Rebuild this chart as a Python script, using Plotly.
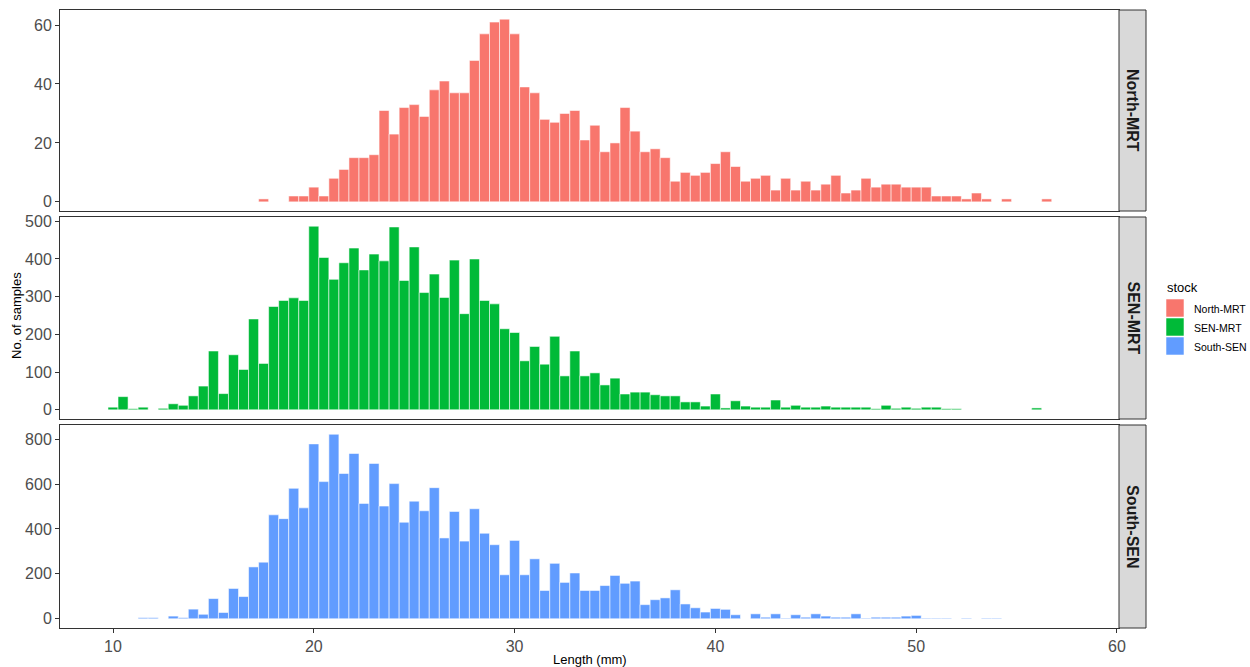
import plotly.graph_objects as go

# ---------------------------------------------------------------- data
stocks = ["North-MRT", "SEN-MRT", "South-SEN"]
stock_colors = ["#F8766D", "#00BA38", "#619CFF"]

# Length-class centres (mm, 0.5 mm classes) and sample counts per stock
north_len = [17.5, 19.0, 19.5, 20.0, 20.5, 21.0, 21.5, 22.0, 22.5, 23.0,
             23.5, 24.0, 24.5, 25.0, 25.5, 26.0, 26.5, 27.0, 27.5, 28.0,
             28.5, 29.0, 29.5, 30.0, 30.5, 31.0, 31.5, 32.0, 32.5, 33.0,
             33.5, 34.0, 34.5, 35.0, 35.5, 36.0, 36.5, 37.0, 37.5, 38.0,
             38.5, 39.0, 39.5, 40.0, 40.5, 41.0, 41.5, 42.0, 42.5, 43.0,
             43.5, 44.0, 44.5, 45.0, 45.5, 46.0, 46.5, 47.0, 47.5, 48.0,
             48.5, 49.0, 49.5, 50.0, 50.5, 51.0, 51.5, 52.0, 52.5, 53.0,
             53.5, 54.5, 56.5]
north_n = [1, 2, 2, 5, 2, 8, 11, 15, 15, 16,
           31, 23, 32, 33, 29, 38, 41, 37, 37, 48,
           57, 61, 62, 57, 39, 37, 28, 27, 30, 31,
           21, 26, 17, 20, 32, 24, 17, 18, 15, 7,
           10, 9, 10, 13, 17, 12, 7, 8, 9, 4,
           8, 4, 7, 4, 6, 9, 3, 4, 8, 5,
           6, 6, 5, 5, 5, 2, 2, 2, 1, 3,
           1, 1, 1]

sen_len = [10.0, 10.5, 11.0, 11.5, 12.5, 13.0, 13.5, 14.0, 14.5, 15.0,
           15.5, 16.0, 16.5, 17.0, 17.5, 18.0, 18.5, 19.0, 19.5, 20.0,
           20.5, 21.0, 21.5, 22.0, 22.5, 23.0, 23.5, 24.0, 24.5, 25.0,
           25.5, 26.0, 26.5, 27.0, 27.5, 28.0, 28.5, 29.0, 29.5, 30.0,
           30.5, 31.0, 31.5, 32.0, 32.5, 33.0, 33.5, 34.0, 34.5, 35.0,
           35.5, 36.0, 36.5, 37.0, 37.5, 38.0, 38.5, 39.0, 39.5, 40.0,
           40.5, 41.0, 41.5, 42.0, 42.5, 43.0, 43.5, 44.0, 44.5, 45.0,
           45.5, 46.0, 46.5, 47.0, 47.5, 48.0, 48.5, 49.0, 49.5, 50.0,
           50.5, 51.0, 51.5, 52.0, 56.0]
sen_n = [7, 35, 3, 7, 4, 16, 12, 37, 63, 156,
         43, 146, 107, 241, 123, 274, 290, 297, 290, 487,
         404, 346, 390, 429, 371, 413, 395, 485, 343, 432,
         311, 360, 298, 397, 255, 400, 290, 281, 215, 205,
         130, 168, 121, 195, 90, 156, 90, 98, 66, 84,
         42, 47, 47, 40, 37, 37, 21, 21, 10, 42,
         5, 24, 10, 7, 7, 26, 7, 12, 7, 7,
         10, 7, 7, 7, 7, 3, 12, 4, 7, 4,
         7, 7, 3, 3, 5]

south_len = [11.5, 12.0, 13.0, 13.5, 14.0, 14.5, 15.0, 15.5, 16.0, 16.5,
             17.0, 17.5, 18.0, 18.5, 19.0, 19.5, 20.0, 20.5, 21.0, 21.5,
             22.0, 22.5, 23.0, 23.5, 24.0, 24.5, 25.0, 25.5, 26.0, 26.5,
             27.0, 27.5, 28.0, 28.5, 29.0, 29.5, 30.0, 30.5, 31.0, 31.5,
             32.0, 32.5, 33.0, 33.5, 34.0, 34.5, 35.0, 35.5, 36.0, 36.5,
             37.0, 37.5, 38.0, 38.5, 39.0, 39.5, 40.0, 40.5, 41.0, 42.0,
             42.5, 43.0, 43.5, 44.0, 44.5, 45.0, 45.5, 46.0, 46.5, 47.0,
             47.5, 48.0, 48.5, 49.0, 49.5, 50.0, 50.5, 51.0, 51.5, 52.5,
             53.5, 54.0]
south_n = [5, 5, 12, 5, 43, 20, 90, 28, 135, 99,
           231, 252, 463, 446, 581, 494, 779, 611, 822, 647,
           736, 514, 692, 502, 602, 430, 524, 481, 584, 360,
           478, 346, 490, 381, 330, 196, 349, 196, 267, 126,
           247, 162, 204, 126, 126, 148, 193, 158, 168, 63,
           85, 93, 129, 66, 49, 30, 46, 42, 18, 22,
           7, 22, 3, 18, 7, 22, 12, 7, 7, 22,
           3, 7, 7, 7, 12, 15, 3, 3, 3, 3,
           3, 3]

y_ticks = [[0, 20, 40, 60],
           [0, 100, 200, 300, 400, 500],
           [0, 200, 400, 600, 800]]
x_ticks = [10, 20, 30, 40, 50, 60]
x_title = "Length (mm)"
y_title = "No. of samples"
legend_title = "stock"

series = [(north_len, north_n), (sen_len, sen_n), (south_len, south_n)]

# ---------------------------------------------------------------- layout geometry (pixels)
W, H = 1250, 667
FONT = "Liberation Sans, Arial, sans-serif"
panel_left, panel_right = 60, 1119
strip_right = 1146
panel_rows = [(10, 211), (217, 419), (425, 628)]
x_range = [7.36, 60.1]


def fx(p):
    return p / W


def fy(p):
    return 1 - p / H


fig = go.Figure()
layout = dict(
    width=W, height=H, autosize=False,
    margin=dict(l=0, r=0, t=0, b=0, pad=0, autoexpand=False),
    paper_bgcolor="white", plot_bgcolor="white",
    showlegend=False, barmode="overlay",
    font=dict(family=FONT),
)
shapes, annotations = [], []

for i, ((lens, counts), name, col) in enumerate(zip(series, stocks, stock_colors)):
    k = "" if i == 0 else str(i + 1)
    top, bot = panel_rows[i]
    fig.add_trace(go.Bar(
        x=lens, y=counts, width=0.5, name=name,
        marker=dict(color=col, line=dict(color="rgba(255,255,255,0.55)", width=1)),
        xaxis="x" + k, yaxis="y" + k,
    ))
    ymax = max(counts)
    is_bottom = i == len(stocks) - 1
    layout["xaxis" + k] = dict(
        domain=[fx(panel_left), fx(panel_right)], range=x_range,
        anchor="y" + k, showgrid=False, zeroline=False, automargin=False,
        showline=True, mirror=True, linecolor="#333333", linewidth=1,
        tickvals=x_ticks, ticks="outside" if is_bottom else "",
        ticklen=4, tickcolor="#333333", showticklabels=is_bottom,
        tickfont=dict(size=16, color="#4D4D4D", family=FONT),
    )
    layout["yaxis" + k] = dict(
        domain=[fy(bot), fy(top)], range=[-0.05 * ymax, 1.05 * ymax],
        anchor="x" + k, showgrid=False, zeroline=False, automargin=False,
        showline=True, mirror=True, linecolor="#333333", linewidth=1,
        tickvals=y_ticks[i], ticks="outside", ticklen=4, tickcolor="#333333",
        tickfont=dict(size=16, color="#4D4D4D", family=FONT),
    )
    # facet strip on the right
    shapes.append(dict(
        type="rect", xref="paper", yref="paper",
        x0=fx(panel_right), x1=fx(strip_right), y0=fy(bot), y1=fy(top),
        fillcolor="#D9D9D9", line=dict(color="#333333", width=1),
    ))
    annotations.append(dict(
        text="<b>%s</b>" % name, xref="paper", yref="paper",
        x=fx((panel_right + strip_right) / 2), y=fy((top + bot) / 2),
        xanchor="center", yanchor="middle",
        textangle=90, showarrow=False,
        font=dict(size=16, color="#1A1A1A", family=FONT),
    ))

# axis titles
annotations.append(dict(
    text=x_title, xref="paper", yref="paper",
    x=fx((panel_left + panel_right) / 2), y=fy(659),
    xanchor="center", yanchor="middle",
    showarrow=False, font=dict(size=13, color="black", family=FONT),
))
annotations.append(dict(
    text=y_title, xref="paper", yref="paper",
    x=fx(17), y=fy(316), textangle=-90,
    xanchor="center", yanchor="middle",
    showarrow=False, font=dict(size=13, color="black", family=FONT),
))

# legend
annotations.append(dict(
    text=legend_title, xref="paper", yref="paper",
    x=fx(1165), y=fy(287), xanchor="left", yanchor="middle",
    showarrow=False, font=dict(size=13, color="black", family=FONT),
))
key_top, key_h = 299, 19
for j, (name, col) in enumerate(zip(stocks, stock_colors)):
    y0 = key_top + j * key_h
    shapes.append(dict(
        type="rect", xref="paper", yref="paper",
        x0=fx(1166), x1=fx(1184), y0=fy(y0 + key_h - 1), y1=fy(y0),
        fillcolor=col, line=dict(color="rgba(255,255,255,0.55)", width=1),
    ))
    annotations.append(dict(
        text=name, xref="paper", yref="paper",
        x=fx(1192), y=fy(y0 + key_h / 2), xanchor="left", yanchor="middle",
        showarrow=False, font=dict(size=10.5, color="black", family=FONT),
    ))

layout["shapes"] = shapes
layout["annotations"] = annotations
fig.update_layout(**layout)
fig.write_html("out.html")
